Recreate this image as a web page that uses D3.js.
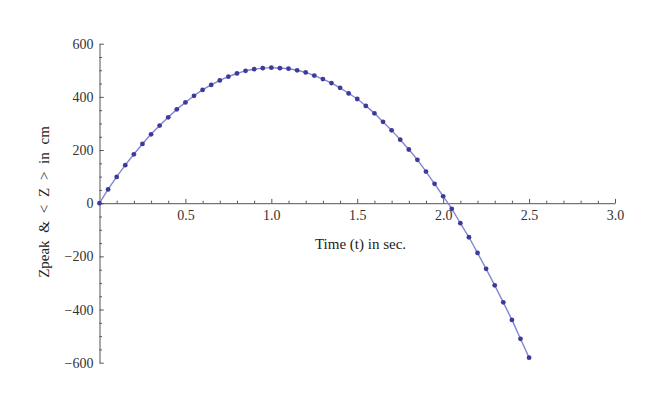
<!DOCTYPE html>
<html>
<head>
<meta charset="utf-8">
<script src="https://cdn.jsdelivr.net/npm/d3@7"></script>
<style>
  html, body { margin: 0; padding: 0; background: #fff; }
  svg { display: block; }
  .tick text { font-family: "Liberation Serif", "Times New Roman", serif; font-size: 14px; fill: #333; }
</style>
</head>
<body>
<svg id="chart" width="654" height="409"></svg>
<script>
// ---- data ----
const times = [0, 0.05, 0.1, 0.15, 0.2, 0.25, 0.3, 0.35, 0.4, 0.45,
  0.5, 0.55, 0.6, 0.65, 0.7, 0.75, 0.8, 0.85, 0.9, 0.95,
  1.0, 1.05, 1.1, 1.15, 1.2, 1.25, 1.3, 1.35, 1.4, 1.45,
  1.5, 1.55, 1.6, 1.65, 1.7, 1.75, 1.8, 1.85, 1.9, 1.95,
  2.0, 2.05, 2.1, 2.15, 2.2, 2.25, 2.3, 2.35, 2.4, 2.45, 2.5];
const zValues = [0, 52, 99, 143, 184, 223, 259, 292, 323, 353,
  379, 404, 426, 445, 462, 476, 488, 498, 504, 508,
  510, 508, 506, 500, 492, 480, 467, 452, 434, 413,
  392, 366, 338, 306, 274, 239, 202, 163, 119, 73,
  26, -21, -75, -128, -187, -247, -309, -373, -439, -510, -581];
const xTicks = [0.5, 1.0, 1.5, 2.0, 2.5, 3.0];
const xMinorTicks = [0.1, 0.2, 0.3, 0.4, 0.6, 0.7, 0.8, 0.9, 1.1, 1.2, 1.3, 1.4, 1.6, 1.7, 1.8, 1.9, 2.1, 2.2, 2.3, 2.4, 2.6, 2.7, 2.8, 2.9];
const yTicks = [-600, -400, -200, 0, 200, 400, 600];
const yMinorTicks = [-550, -500, -450, -350, -300, -250, -150, -100, -50, 50, 100, 150, 250, 300, 350, 450, 500, 550];
const xTitle = "Time (t) in sec.";
const yTitle = "Zpeak & < Z > in cm";

const data = times.map((t, i) => ({ t, z: zValues[i] }));

const svg = d3.select("#chart");
const x = d3.scaleLinear().domain([0, 3]).range([99.5, 615]);
const y = d3.scaleLinear().domain([-600, 600]).range([362.7, 43.7]);

const axisColor = "#555";

// x axis (through y = 0)
const gx = svg.append("g").attr("transform", `translate(0,${y(0)})`);
gx.call(d3.axisBottom(x).tickValues(xTicks).tickSizeInner(-4.3).tickSizeOuter(0)
  .tickPadding(7).tickFormat(d3.format(".1f")));
const gxm = svg.append("g").attr("transform", `translate(0,${y(0)})`);
gxm.call(d3.axisBottom(x).tickValues(xMinorTicks).tickSizeInner(-2.5).tickSizeOuter(0).tickFormat(""));
gxm.select(".domain").remove();

// y axis (through x = 0)
const gy = svg.append("g").attr("transform", `translate(${x(0)},0)`);
gy.call(d3.axisLeft(y).tickValues(yTicks).tickSizeInner(-4.3).tickSizeOuter(0)
  .tickPadding(6).tickFormat(d3.format("d")));
const gym = svg.append("g").attr("transform", `translate(${x(0)},0)`);
gym.call(d3.axisLeft(y).tickValues(yMinorTicks).tickSizeInner(-2.5).tickSizeOuter(0).tickFormat(""));
gym.select(".domain").remove();

svg.selectAll(".domain, .tick line").attr("stroke", axisColor).attr("stroke-width", 1);

// axis titles
svg.append("text")
  .attr("x", 360.5).attr("y", 249.3)
  .attr("text-anchor", "middle")
  .style("font-family", "'Liberation Serif', 'Times New Roman', serif")
  .style("font-size", "15px").style("fill", "#222")
  .text(xTitle);

svg.append("text")
  .attr("transform", "translate(48.5,202) rotate(-90)")
  .attr("text-anchor", "middle")
  .style("font-family", "'Liberation Serif', 'Times New Roman', serif")
  .style("font-size", "15px").style("word-spacing", "4px").style("fill", "#222")
  .text(yTitle);

// curve
const line = d3.line().x(d => x(d.t)).y(d => y(d.z)).curve(d3.curveCatmullRom);
svg.append("path").datum(data)
  .attr("d", line)
  .attr("fill", "none")
  .attr("stroke", "#8585d2")
  .attr("stroke-width", 1.4);

// points
svg.append("g").selectAll("circle").data(data).join("circle")
  .attr("cx", d => x(d.t)).attr("cy", d => y(d.z))
  .attr("r", 2.4)
  .attr("fill", "#3b3b9c");
</script>
</body>
</html>
